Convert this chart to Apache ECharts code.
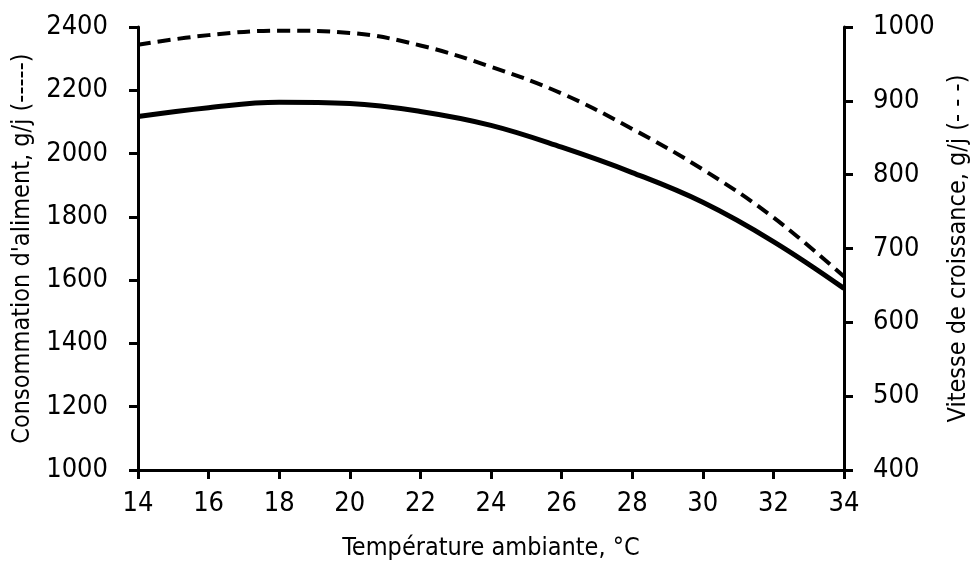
<!DOCTYPE html>
<html>
<head>
<meta charset="utf-8">
<script src="https://cdn.jsdelivr.net/npm/echarts@6/dist/echarts.min.js"></script>
<style>
html,body{margin:0;padding:0;background:#fff;}
#chart{width:976px;height:568px;}
</style>
</head>
<body>
<div id="chart"></div>
<script>
var temperatures = [14, 16, 18, 20, 22, 24, 26, 28, 30, 32, 34];
var feedIntake = [2117, 2145, 2162, 2158, 2133, 2089, 2020, 1940, 1846, 1722, 1574];
var growthRate = [976, 989, 995, 992, 975, 946, 910, 862, 807, 742, 662];

var FONT = '"Liberation Sans Narrow", "Arial Narrow", "DejaVu Sans Condensed", sans-serif';

function pairs(xs, ys) {
  return xs.map(function (x, i) { return [x, ys[i]]; });
}
function plain(v) { return String(v); }

var axisCommon = {
  axisLine: { show: true, lineStyle: { color: '#000', width: 3 } },
  axisTick: { show: true, inside: false, length: 9, lineStyle: { color: '#000', width: 3 } },
  splitLine: { show: false },
  axisLabel: { color: '#000', fontSize: 27, fontFamily: FONT, formatter: plain },
  nameTextStyle: { color: '#000', fontSize: 25, fontFamily: FONT }
};

var chart = echarts.init(document.getElementById('chart'), null, { renderer: 'canvas' });
chart.setOption({
  animation: false,
  backgroundColor: '#fff',
  grid: { left: 138, right: 132, top: 27, bottom: 98, containLabel: false, outerBoundsMode: 'none' },
  xAxis: Object.assign({}, axisCommon, {
    type: 'value', min: 14, max: 34, interval: 2,
    name: 'Température ambiante, °C', nameLocation: 'middle', nameGap: 66,
    axisLabel: Object.assign({}, axisCommon.axisLabel, { margin: 20 })
  }),
  yAxis: [
    Object.assign({}, axisCommon, {
      type: 'value', position: 'left', min: 1000, max: 2400, interval: 200,
      name: "Consommation d'aliment, g/j (-----)", nameLocation: 'middle', nameGap: 86,
      axisLabel: Object.assign({}, axisCommon.axisLabel, { margin: 30 })
    }),
    Object.assign({}, axisCommon, {
      type: 'value', position: 'right', min: 400, max: 1000, interval: 100,
      name: 'Vitesse de croissance, g/j (- - -)', nameLocation: 'middle', nameGap: 96,
      nameRotate: 90,
      axisLabel: Object.assign({}, axisCommon.axisLabel, { margin: 29 })
    })
  ],
  series: [
    {
      type: 'line', yAxisIndex: 0, data: pairs(temperatures, feedIntake),
      smooth: 0.4, symbol: 'none',
      lineStyle: { color: '#000', width: 5, type: 'solid' }
    },
    {
      type: 'line', yAxisIndex: 1, data: pairs(temperatures, growthRate),
      smooth: 0.4, symbol: 'none',
      lineStyle: { color: '#000', width: 4, type: [13, 7] }
    }
  ]
});
</script>
</body>
</html>
